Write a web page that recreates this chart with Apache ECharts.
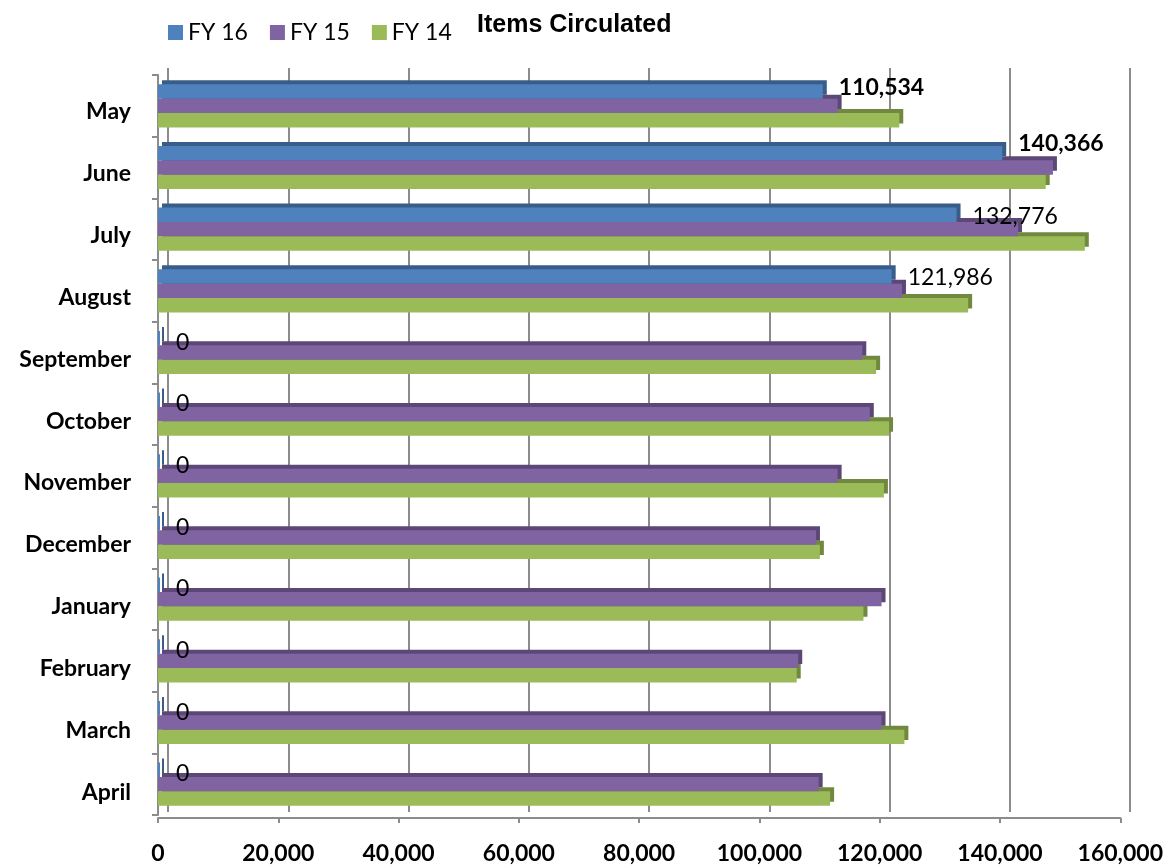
<!DOCTYPE html>
<html>
<head>
<meta charset="utf-8">
<title>Items Circulated</title>
<script src="https://cdn.jsdelivr.net/npm/echarts@6/dist/echarts.min.js"></script>
<style>
	html, body { margin: 0; padding: 0; background: #fff; }
	#main { width: 1166px; height: 865px; }
</style>
</head>
<body>
<div id="main"></div>
<script>
	// 数据
	var months = ['May', 'June', 'July', 'August', 'September', 'October', 'November', 'December', 'January', 'February', 'March', 'April'];
	var fy16 = [110534, 140366, 132776, 121986, 0, 0, 0, 0, 0, 0, 0, 0];
	var fy15 = [113000, 148800, 143000, 123700, 117100, 118350, 113000, 109400, 120300, 106450, 120300, 109850];
	var fy14 = [123250, 147600, 154100, 134700, 119400, 121550, 120700, 110050, 117300, 106200, 124100, 111750];
	var xTicks = [0, 20000, 40000, 60000, 80000, 100000, 120000, 140000, 160000];

	// FY 16 标签的上下微调（像素）
	var labelDy = [-4, -10, 2, 1, 4, 4, 4, 4, 4, 4, 4, 4];

	var chart = echarts.init(document.getElementById('main'));

	function fmt(v) {
		return Number(v).toLocaleString('en-US');
	}

	var grey = '#8c8c8c';

	var option = {
		animation: false,
		textStyle: {
			fontFamily: 'Lato'
		},
		title: {
			text: 'Items Circulated',
			left: 472,
			top: 8,
			textStyle: {
				fontFamily: 'Liberation Sans',
				fontWeight: 'bold',
				fontSize: 25,
				color: '#000'
			}
		},
		legend: {
			left: 168,
			top: 21,
			padding: 0,
			icon: 'rect',
			itemWidth: 15,
			itemHeight: 15,
			itemGap: 22,
			textStyle: {
				fontFamily: 'Lato',
				fontSize: 23,
				color: '#000'
			},
			itemStyle: {
				shadowColor: 'transparent',
				shadowOffsetX: 0,
				shadowOffsetY: 0
			},
			data: ['FY 16', 'FY 15', 'FY 14']
		},
		grid: [{
			// 前面（柱子）
			left: 158,
			right: 43,
			top: 75,
			bottom: 48
		}, {
			// 后墙网格线
			left: 168,
			right: 36,
			top: 68,
			bottom: 53
		}, {
			// 月份标签
			left: 158,
			right: 43,
			top: 81,
			bottom: 42
		}],
		xAxis: [{
			type: 'value',
			gridIndex: 0,
			min: xTicks[0],
			max: xTicks[xTicks.length - 1],
			interval: xTicks[1] - xTicks[0],
			offset: 3,
			axisLine: {
				show: true,
				lineStyle: { color: grey, width: 2 }
			},
			axisTick: {
				show: true,
				length: 5,
				lineStyle: { color: grey, width: 2 }
			},
			axisLabel: {
				margin: 24,
				fontFamily: 'Lato',
				fontWeight: 'bold',
				fontSize: 23,
				color: '#000',
				formatter: fmt
			},
			splitLine: { show: false }
		}, {
			type: 'value',
			gridIndex: 1,
			min: xTicks[0],
			max: xTicks[xTicks.length - 1],
			interval: xTicks[1] - xTicks[0],
			axisLine: { show: false },
			axisTick: { show: false },
			axisLabel: { show: false },
			splitLine: {
				show: true,
				lineStyle: { color: grey, width: 2 }
			}
		}, {
			type: 'value',
			gridIndex: 2,
			show: false,
			min: 0,
			max: 1
		}],
		yAxis: [{
			type: 'category',
			gridIndex: 0,
			inverse: true,
			data: months,
			axisLine: {
				show: true,
				lineStyle: { color: grey, width: 2 }
			},
			axisTick: {
				show: true,
				length: 6,
				lineStyle: { color: grey, width: 2 }
			},
			axisLabel: { show: false }
		}, {
			type: 'category',
			gridIndex: 1,
			data: months,
			show: false
		}, {
			type: 'category',
			gridIndex: 2,
			inverse: true,
			data: months,
			axisLine: { show: false },
			axisTick: { show: false },
			axisLabel: {
				margin: 27,
				fontFamily: 'Lato',
				fontWeight: 'bold',
				fontSize: 23,
				color: '#000'
			}
		}],
		series: [{
			name: 'FY 16',
			type: 'bar',
			z: 4,
			barGap: '0%',
			barCategoryGap: '30%',
			barMinHeight: 2,
			itemStyle: {
				color: '#4F81BD',
				shadowColor: '#385D8A',
				shadowOffsetX: 4,
				shadowOffsetY: -4,
				shadowBlur: 0
			},
			label: {
				show: true,
				position: 'right',
				distance: 16,
				fontFamily: 'Lato',
				fontSize: 23,
				color: '#000',
				formatter: function (p) {
					return fmt(p.value);
				}
			},
			data: fy16.map(function (v, i) {
				return {
					value: v,
					label: {
						fontWeight: i < 2 ? 'bold' : 'normal',
						offset: [0, labelDy[i]]
					}
				};
			})
		}, {
			name: 'FY 15',
			type: 'bar',
			z: 3,
			barGap: '0%',
			barCategoryGap: '30%',
			itemStyle: {
				color: '#8064A2',
				shadowColor: '#5C4776',
				shadowOffsetX: 4,
				shadowOffsetY: -4,
				shadowBlur: 0
			},
			data: fy15
		}, {
			name: 'FY 14',
			type: 'bar',
			z: 2,
			barGap: '0%',
			barCategoryGap: '30%',
			itemStyle: {
				color: '#9BBB59',
				shadowColor: '#71893F',
				shadowOffsetX: 4,
				shadowOffsetY: -4,
				shadowBlur: 0
			},
			data: fy14
		}]
	};

	chart.setOption(option);

	window.onresize = function () {
		chart.resize();
	};
</script>
</body>
</html>
